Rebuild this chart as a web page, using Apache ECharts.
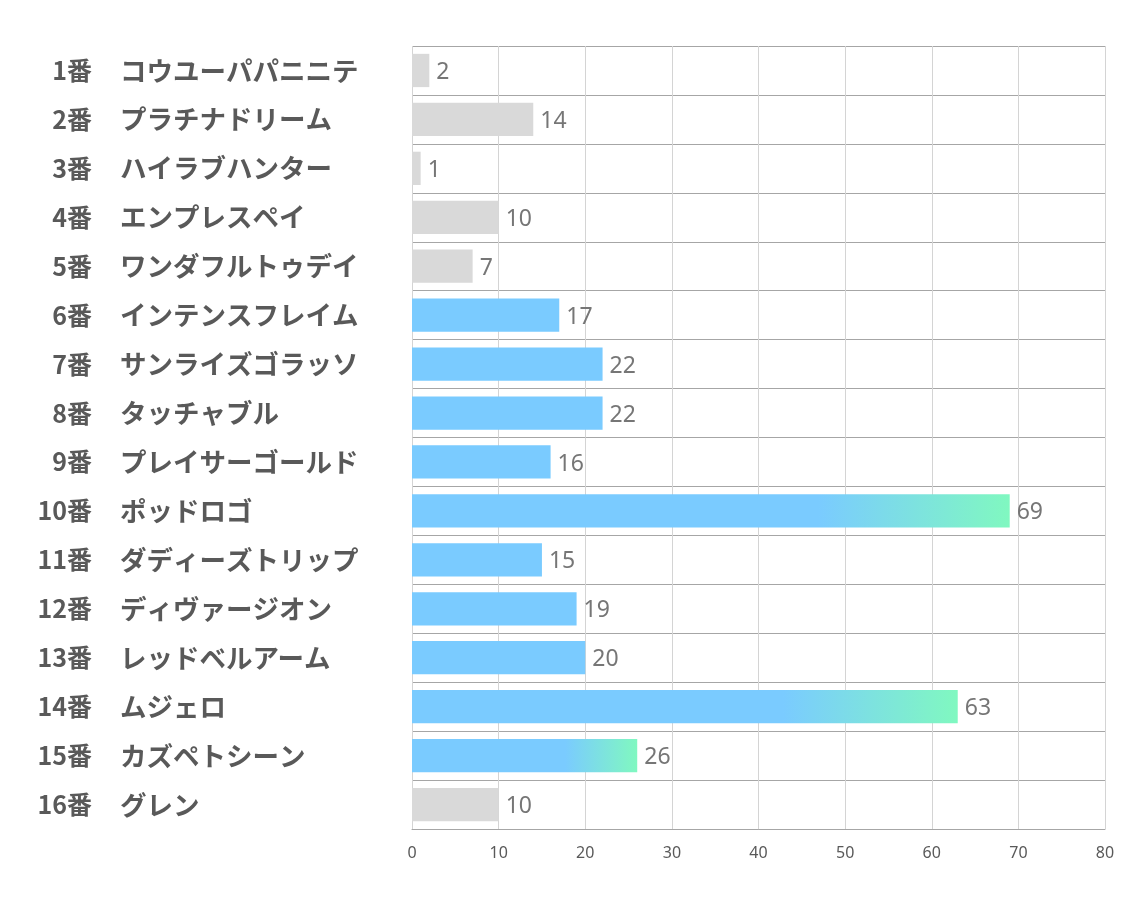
<!DOCTYPE html>
<html><head><meta charset="utf-8">
<script src="https://cdn.jsdelivr.net/npm/echarts@6/dist/echarts.min.js"></script>
<style>html,body{margin:0;padding:0;background:#fff}#c{width:1134px;height:907px}</style>
</head><body><div id="c"></div>
<script>
const numbers = ['1番','2番','3番','4番','5番','6番','7番','8番','9番','10番','11番','12番','13番','14番','15番','16番'];
const names = ['コウユーパパニニテ','プラチナドリーム','ハイラブハンター','エンプレスペイ','ワンダフルトゥデイ','インテンスフレイム','サンライズゴラッソ','タッチャブル','プレイサーゴールド','ポッドロゴ','ダディーズトリップ','ディヴァージオン','レッドベルアーム','ムジェロ','カズペトシーン','グレン'];
const values = [2,14,1,10,7,17,22,22,16,69,15,19,20,63,26,10];
const highlighted = [6,7,8,9,10,11,12,13,14,15];
const xTicks = [0,10,20,30,40,50,60,70,80];

const GRAY='#d9d9d9', BLUE='#7acbff', GREEN='#80f8c0';
const data = values.map((v,i)=>{
  let color = GRAY;
  if (highlighted.includes(i+1)) {
    color = v >= 25 ? new echarts.graphic.LinearGradient(0,0,1,0,[
      {offset:0,color:BLUE},{offset:0.68,color:BLUE},{offset:1,color:GREEN}]) : BLUE;
  }
  return {value:v,itemStyle:{color}};
});
const labelFont = {fontSize:24,fontWeight:'bold',color:'#595959',fontFamily:'Noto Sans CJK JP'};
const chart = echarts.init(document.getElementById('c'));
chart.setOption({
  animation:false,
  grid:{left:412,right:29,top:46,bottom:78,containLabel:false},
  xAxis:{type:'value',min:xTicks[0],max:xTicks[xTicks.length-1],interval:10,
    axisLine:{show:true,lineStyle:{color:'#a6a6a6',width:1}},
    axisTick:{show:false},
    axisLabel:{color:'#595959',fontSize:16,margin:16,fontFamily:'Liberation Sans Narrow, Noto Sans, sans-serif'},
    splitLine:{show:true,lineStyle:{color:'#d4d4d4',width:1}}},
  yAxis:[
    {type:'category',data:names,inverse:true,
    axisLine:{show:false},axisTick:{show:false},
    splitLine:{show:true,lineStyle:{color:'#a6a6a6',width:1}},
    axisLabel:Object.assign({margin:292,align:'left'},labelFont,{fontSize:26.5})},
    {type:'category',data:numbers,inverse:true,position:'left',
    axisLine:{show:false},axisTick:{show:false},splitLine:{show:false},
    axisLabel:Object.assign({margin:320,align:'right'},labelFont,{fontSize:25})}
  ],
  series:[{type:'bar',data:data,barCategoryGap:'32%',yAxisIndex:0,
    label:{show:true,position:'right',distance:7,offset:[0,2],color:'#767676',fontSize:23,fontFamily:'Noto Sans, sans-serif'}}]
});
</script></body></html>
